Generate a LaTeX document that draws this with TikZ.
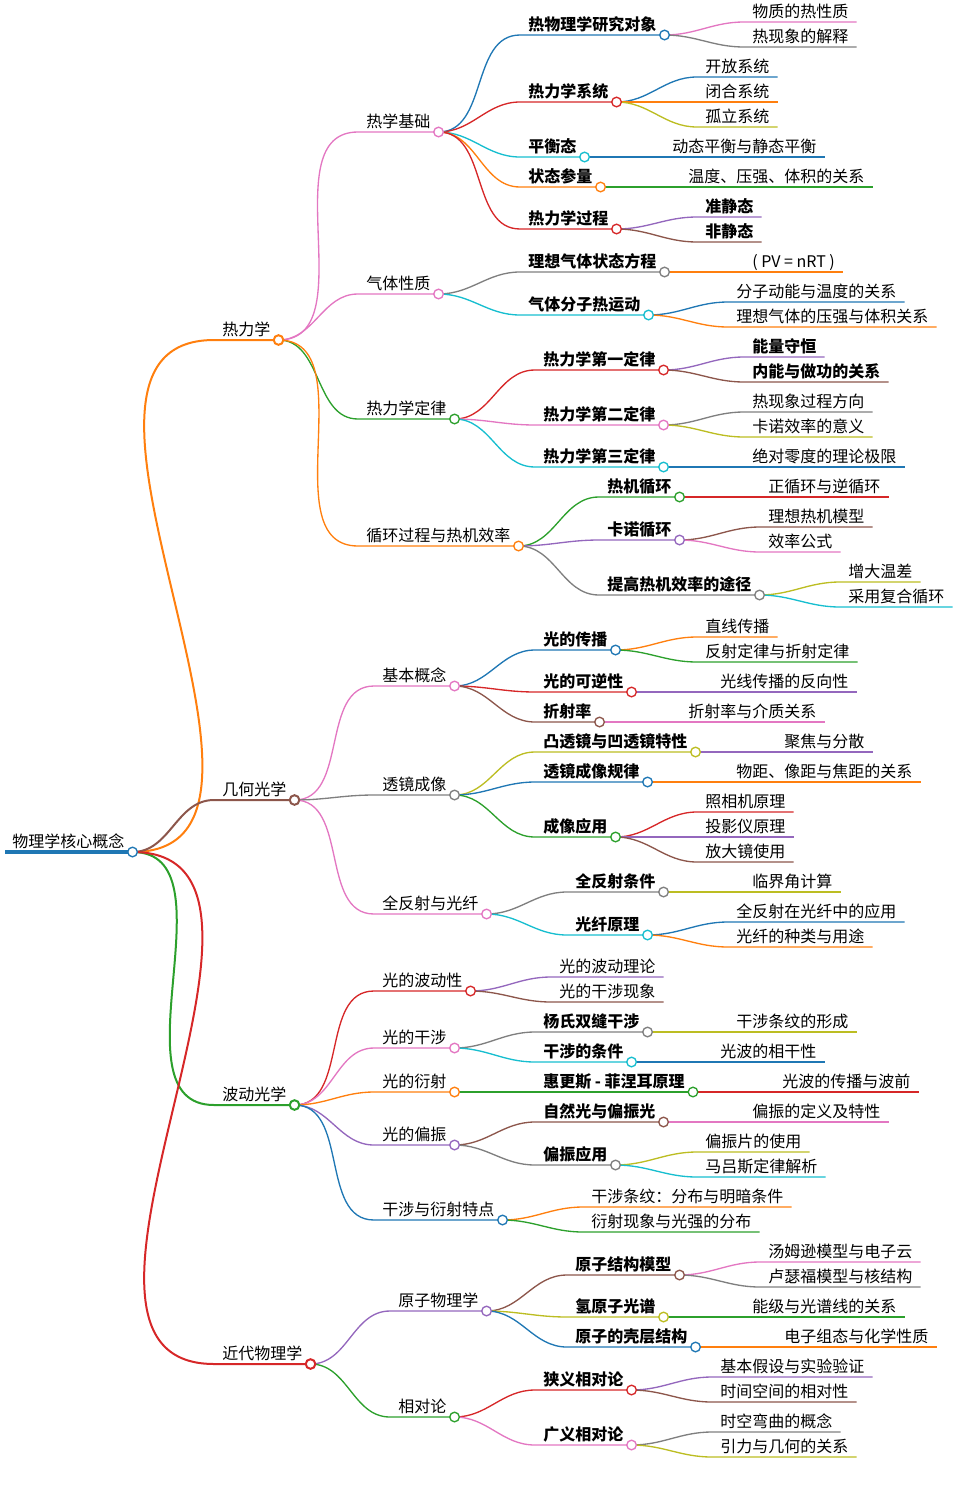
\documentclass[tikz,border=0pt]{standalone}
\usepackage{fontspec}
\setmainfont{Noto Sans CJK SC}
\usetikzlibrary{backgrounds}
\definecolor{cB}{HTML}{1F77B4}\definecolor{cO}{HTML}{FF7F0E}\definecolor{cG}{HTML}{2CA02C}
\definecolor{cR}{HTML}{D62728}\definecolor{cP}{HTML}{9467BD}\definecolor{cBr}{HTML}{8C564B}
\definecolor{cPk}{HTML}{E377C2}\definecolor{cGy}{HTML}{7F7F7F}\definecolor{cOl}{HTML}{BCBD22}
\definecolor{cC}{HTML}{17BECF}
\tikzset{ln/.style={line width=1pt},l1/.style={line width=1.5pt}}
\newcommand\mmX[8]{%
 \node[anchor=base west,inner sep=0pt,font=\fontsize{12pt}{14pt}\selectfont#1] (#3) at (#5,#6-5) {#8};
 \path (#3.base east) ++(8,5) coordinate (#3c);
 \begin{pgfonlayer}{background}
 \draw[ln,#7] (#4c) to[out=0,in=180] (#5-8,#6) -- (#3c);
 \end{pgfonlayer}
 \ifx#2y\draw[ln,#7,fill=white] (#3c) circle[radius=3.6pt];\fi}
\newcommand\mmN[6]{\mmX{}{y}{#1}{#2}{#3}{#4}{#5}{#6}}
\newcommand\mmB[6]{\mmX{\bfseries}{y}{#1}{#2}{#3}{#4}{#5}{#6}}
\newcommand\mmL[6]{\mmX{}{n}{#1}{#2}{#3}{#4}{#5}{#6}}
\newcommand\mmLB[6]{\mmX{\bfseries}{n}{#1}{#2}{#3}{#4}{#5}{#6}}
\begin{document}
\begin{tikzpicture}[x=0.75pt,y=-0.75pt]
\useasboundingbox (0,0) rectangle (960,1503);
\node[anchor=base west,inner sep=0pt,font=\fontsize{12pt}{14pt}\selectfont] (r) at (12,847) {物理学核心概念};
\path (r.base east) ++(8,5) coordinate (rc);
\begin{pgfonlayer}{background}\draw[cB,line width=3pt] (5,852) -- (rc);\end{pgfonlayer}
\draw[cB,line width=1pt,fill=white] (rc) circle[radius=3.6pt];
% level 1
\mmN{a}{r}{222}{340}{cO,l1}{热力学}
\mmN{b}{r}{222}{800}{cBr,l1}{几何光学}
\mmN{c}{r}{222}{1105}{cG,l1}{波动光学}
\mmN{d}{r}{222}{1364}{cR,l1}{近代物理学}
% 热力学
\mmN{a1}{a}{366}{132}{cPk}{热学基础}
\mmN{a2}{a}{366}{294}{cPk}{气体性质}
\mmN{a3}{a}{366}{419}{cG}{热力学定律}
\mmN{a4}{a}{366}{546}{cO}{循环过程与热机效率}
\mmB{a11}{a1}{528}{35}{cB}{热物理学研究对象}
\mmL{a111}{a11}{752}{22}{cPk}{物质的热性质}
\mmL{a112}{a11}{752}{47}{cGy}{热现象的解释}
\mmB{a12}{a1}{528}{102}{cR}{热力学系统}
\mmL{a121}{a12}{705}{77}{cB}{开放系统}
\mmL{a122}{a12}{705}{102}{cO}{闭合系统}
\mmL{a123}{a12}{705}{127}{cOl}{孤立系统}
\mmB{a13}{a1}{528}{157}{cC}{平衡态}
\mmL{a131}{a13}{672}{157}{cB}{动态平衡与静态平衡}
\mmB{a14}{a1}{528}{187}{cO}{状态参量}
\mmL{a141}{a14}{688}{187}{cG}{温度、压强、体积的关系}
\mmB{a15}{a1}{528}{229}{cR}{热力学过程}
\mmLB{a151}{a15}{705}{217}{cP}{准静态}
\mmLB{a152}{a15}{705}{242}{cBr}{非静态}
\mmB{a21}{a2}{528}{272}{cGy}{理想气体状态方程}
\mmL{a211}{a21}{752}{272}{cO}{( PV = nRT )}
\mmB{a22}{a2}{528}{315}{cC}{气体分子热运动}
\mmL{a221}{a22}{736}{302}{cB}{分子动能与温度的关系}
\mmL{a222}{a22}{736}{327}{cO}{理想气体的压强与体积关系}
\mmB{a31}{a3}{543}{370}{cR}{热力学第一定律}
\mmLB{a311}{a31}{752}{357}{cP}{能量守恒}
\mmLB{a312}{a31}{752}{382}{cBr}{内能与做功的关系}
\mmB{a32}{a3}{543}{425}{cPk}{热力学第二定律}
\mmL{a321}{a32}{752}{412}{cGy}{热现象过程方向}
\mmL{a322}{a32}{752}{437}{cOl}{卡诺效率的意义}
\mmB{a33}{a3}{543}{467}{cC}{热力学第三定律}
\mmL{a331}{a33}{752}{467}{cB}{绝对零度的理论极限}
\mmB{a41}{a4}{607}{497}{cG}{热机循环}
\mmL{a411}{a41}{768}{497}{cR}{正循环与逆循环}
\mmB{a42}{a4}{607}{540}{cP}{卡诺循环}
\mmL{a421}{a42}{768}{527}{cBr}{理想热机模型}
\mmL{a422}{a42}{768}{552}{cPk}{效率公式}
\mmB{a43}{a4}{607}{595}{cGy}{提高热机效率的途径}
\mmL{a431}{a43}{848}{582}{cOl}{增大温差}
\mmL{a432}{a43}{848}{607}{cC}{采用复合循环}
% 几何光学
\mmN{b1}{b}{382}{686}{cPk}{基本概念}
\mmN{b2}{b}{382}{795}{cGy}{透镜成像}
\mmN{b3}{b}{382}{914}{cPk}{全反射与光纤}
\mmB{b11}{b1}{543}{650}{cB}{光的传播}
\mmL{b111}{b11}{705}{637}{cO}{直线传播}
\mmL{b112}{b11}{705}{662}{cG}{反射定律与折射定律}
\mmB{b12}{b1}{543}{692}{cR}{光的可逆性}
\mmL{b121}{b12}{720}{692}{cP}{光线传播的反向性}
\mmB{b13}{b1}{543}{722}{cBr}{折射率}
\mmL{b131}{b13}{688}{722}{cPk}{折射率与介质关系}
\mmB{b21}{b2}{543}{752}{cOl}{凸透镜与凹透镜特性}
\mmL{b211}{b21}{784}{752}{cP}{聚焦与分散}
\mmB{b22}{b2}{543}{782}{cB}{透镜成像规律}
\mmL{b221}{b22}{736}{782}{cO}{物距、像距与焦距的关系}
\mmB{b23}{b2}{543}{837}{cG}{成像应用}
\mmL{b231}{b23}{705}{812}{cR}{照相机原理}
\mmL{b232}{b23}{705}{837}{cP}{投影仪原理}
\mmL{b233}{b23}{705}{862}{cBr}{放大镜使用}
\mmB{b31}{b3}{575}{892}{cGy}{全反射条件}
\mmL{b311}{b31}{752}{892}{cOl}{临界角计算}
\mmB{b32}{b3}{575}{935}{cC}{光纤原理}
\mmL{b321}{b32}{736}{922}{cB}{全反射在光纤中的应用}
\mmL{b322}{b32}{736}{947}{cO}{光纤的种类与用途}
% 波动光学
\mmN{c1}{c}{382}{991}{cR}{光的波动性}
\mmL{c11}{c1}{559}{977}{cP}{光的波动理论}
\mmL{c12}{c1}{559}{1002}{cBr}{光的干涉现象}
\mmN{c2}{c}{382}{1048}{cPk}{光的干涉}
\mmB{c21}{c2}{543}{1032}{cGy}{杨氏双缝干涉}
\mmL{c211}{c21}{736}{1032}{cOl}{干涉条纹的形成}
\mmB{c22}{c2}{543}{1062}{cC}{干涉的条件}
\mmL{c221}{c22}{720}{1062}{cB}{光波的相干性}
\mmN{c3}{c}{382}{1092}{cO}{光的衍射}
\mmB{c31}{c3}{543}{1092}{cG}{惠更斯 - 菲涅耳原理}
\mmL{c311}{c31}{782}{1092}{cR}{光波的传播与波前}
\mmN{c4}{c}{382}{1145}{cP}{光的偏振}
\mmB{c41}{c4}{543}{1122}{cBr}{自然光与偏振光}
\mmL{c411}{c41}{752}{1122}{cPk}{偏振的定义及特性}
\mmB{c42}{c4}{543}{1165}{cGy}{偏振应用}
\mmL{c421}{c42}{705}{1152}{cOl}{偏振片的使用}
\mmL{c422}{c42}{705}{1177}{cC}{马吕斯定律解析}
\mmN{c5}{c}{382}{1220}{cB}{干涉与衍射特点}
\mmL{c51}{c5}{591}{1207}{cO}{干涉条纹：分布与明暗条件}
\mmL{c52}{c5}{591}{1232}{cG}{衍射现象与光强的分布}
% 近代物理学
\mmN{d1}{d}{398}{1311}{cP}{原子物理学}
\mmN{d2}{d}{398}{1417}{cG}{相对论}
\mmB{d11}{d1}{575}{1275}{cBr}{原子结构模型}
\mmL{d111}{d11}{768}{1262}{cPk}{汤姆逊模型与电子云}
\mmL{d112}{d11}{768}{1287}{cGy}{卢瑟福模型与核结构}
\mmB{d12}{d1}{575}{1317}{cOl}{氢原子光谱}
\mmL{d121}{d12}{752}{1317}{cG}{能级与光谱线的关系}
\mmB{d13}{d1}{575}{1347}{cB}{原子的壳层结构}
\mmL{d131}{d13}{784}{1347}{cO}{电子组态与化学性质}
\mmB{d21}{d2}{543}{1390}{cR}{狭义相对论}
\mmL{d211}{d21}{720}{1377}{cP}{基本假设与实验验证}
\mmL{d212}{d21}{720}{1402}{cBr}{时间空间的相对性}
\mmB{d22}{d2}{543}{1445}{cPk}{广义相对论}
\mmL{d221}{d22}{720}{1432}{cGy}{时空弯曲的概念}
\mmL{d222}{d22}{720}{1457}{cOl}{引力与几何的关系}
\end{tikzpicture}
\end{document}
